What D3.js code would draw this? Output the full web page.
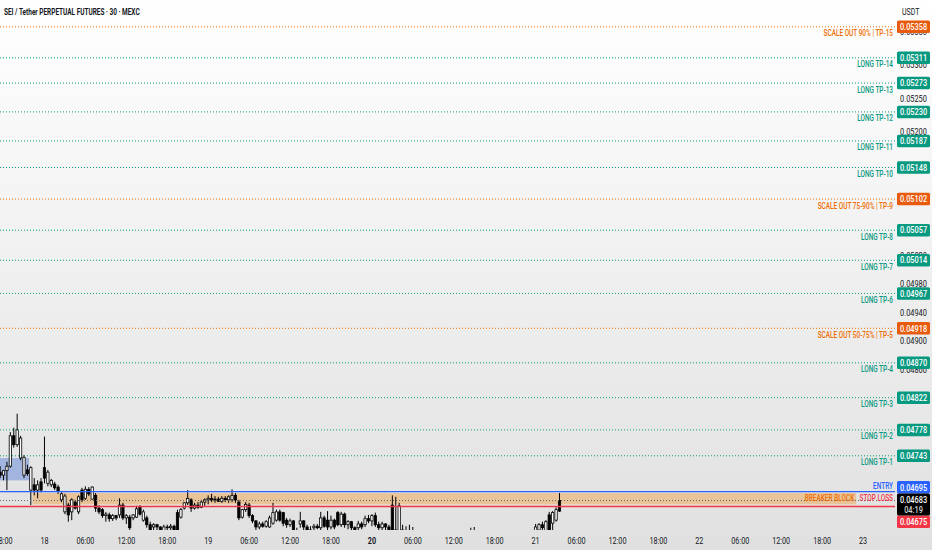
<!DOCTYPE html>
<html><head><meta charset="utf-8">
<script src="https://cdn.jsdelivr.net/npm/d3@7"></script>
<style>
html,body{margin:0;padding:0;background:#fff;}
svg{display:block;font-family:Roboto,"Noto Sans",sans-serif;}
</style></head><body>
<svg id="chart" width="932" height="550"></svg>
<script>
// ---------------- DATA ----------------
const title = "SEI / Tether PERPETUAL FUTURES · 30 · MEXC";
const currency = "USDT";
const firstCandle = "2025-01-17T17:30:00Z";   // 30-minute candles
const candleMinutes = 30;
// [open, high, low, close]
const ohlc = [
[0.04721,0.04729,0.04713,0.04717],[0.04717,0.04724,0.04710,0.04723],[0.04723,0.04735,0.04697,0.04729],[0.04729,0.04775,0.04727,0.04770],
[0.04770,0.04781,0.04754,0.04758],[0.04758,0.04800,0.04755,0.04778],[0.04740,0.04770,0.04737,0.04767],[0.04717,0.04744,0.04713,0.04741],
[0.04724,0.04731,0.04716,0.04719],[0.04697,0.04729,0.04677,0.04727],[0.04704,0.04713,0.04690,0.04697],[0.04697,0.04710,0.04686,0.04704],
[0.04708,0.04713,0.04694,0.04697],[0.04727,0.04769,0.04706,0.04713],[0.04706,0.04724,0.04702,0.04721],[0.04704,0.04712,0.04701,0.04710],
[0.04705,0.04708,0.04697,0.04700],[0.04701,0.04704,0.04692,0.04696],[0.04684,0.04694,0.04681,0.04692],[0.04668,0.04692,0.04665,0.04689],
[0.04677,0.04680,0.04655,0.04664],[0.04668,0.04686,0.04657,0.04684],[0.04681,0.04684,0.04671,0.04673],[0.04668,0.04690,0.04665,0.04688],
[0.04697,0.04700,0.04681,0.04684],[0.04686,0.04702,0.04684,0.04698],[0.04698,0.04701,0.04689,0.04692],[0.04685,0.04702,0.04684,0.04701],
[0.04690,0.04693,0.04668,0.04673],[0.04673,0.04677,0.04665,0.04668],[0.04671,0.04673,0.04660,0.04663],[0.04663,0.04668,0.04655,0.04665],
[0.04664,0.04667,0.04655,0.04659],[0.04659,0.04665,0.04656,0.04663],[0.04663,0.04664,0.04657,0.04660],[0.04664,0.04686,0.04660,0.04677],
[0.04677,0.04680,0.04657,0.04660],[0.04660,0.04665,0.04652,0.04663],[0.04661,0.04664,0.04644,0.04647],[0.04660,0.04665,0.04657,0.04664],
[0.04661,0.04676,0.04660,0.04672],[0.04674,0.04677,0.04663,0.04665],[0.04657,0.04671,0.04655,0.04668],[0.04660,0.04663,0.04647,0.04651],
[0.04651,0.04655,0.04637,0.04644],[0.04648,0.04653,0.04641,0.04651],[0.04651,0.04652,0.04644,0.04648],[0.04648,0.04649,0.04631,0.04637],
[0.04641,0.04651,0.04637,0.04648],[0.04648,0.04651,0.04641,0.04647],[0.04647,0.04652,0.04639,0.04649],[0.04649,0.04651,0.04631,0.04633],
[0.04667,0.04671,0.04631,0.04644],[0.04661,0.04673,0.04659,0.04671],[0.04673,0.04681,0.04671,0.04680],[0.04680,0.04697,0.04677,0.04686],
[0.04684,0.04686,0.04668,0.04673],[0.04673,0.04680,0.04671,0.04677],[0.04677,0.04681,0.04672,0.04674],[0.04674,0.04684,0.04673,0.04681],
[0.04681,0.04686,0.04676,0.04684],[0.04684,0.04690,0.04678,0.04686],[0.04686,0.04692,0.04681,0.04684],[0.04684,0.04689,0.04680,0.04685],
[0.04685,0.04688,0.04681,0.04682],[0.04682,0.04689,0.04680,0.04686],[0.04686,0.04689,0.04681,0.04684],[0.04684,0.04690,0.04680,0.04688],
[0.04684,0.04698,0.04681,0.04690],[0.04690,0.04693,0.04680,0.04684],[0.04681,0.04684,0.04657,0.04660],[0.04661,0.04672,0.04659,0.04671],
[0.04671,0.04681,0.04668,0.04678],[0.04677,0.04680,0.04660,0.04663],[0.04663,0.04665,0.04653,0.04656],[0.04656,0.04657,0.04644,0.04648],
[0.04648,0.04655,0.04645,0.04652],[0.04652,0.04655,0.04647,0.04649],[0.04649,0.04657,0.04647,0.04655],[0.04648,0.04663,0.04647,0.04660],
[0.04653,0.04680,0.04651,0.04667],[0.04657,0.04671,0.04655,0.04668],[0.04668,0.04671,0.04655,0.04657],[0.04667,0.04668,0.04649,0.04653],
[0.04657,0.04660,0.04647,0.04651],[0.04651,0.04659,0.04648,0.04656],[0.04656,0.04657,0.04637,0.04641],[0.04641,0.04647,0.04631,0.04637],
[0.04652,0.04668,0.04647,0.04656],[0.04656,0.04657,0.04644,0.04648],[0.04648,0.04651,0.04637,0.04641],[0.04641,0.04649,0.04636,0.04644],
[0.04647,0.04652,0.04644,0.04649],[0.04649,0.04652,0.04645,0.04647],[0.04647,0.04668,0.04644,0.04660],[0.04660,0.04663,0.04647,0.04649],
[0.04657,0.04669,0.04644,0.04648],[0.04648,0.04663,0.04645,0.04657],[0.04657,0.04659,0.04645,0.04648],[0.04667,0.04669,0.04649,0.04651],
[0.04651,0.04668,0.04648,0.04665],[0.04665,0.04667,0.04647,0.04651],[0.04651,0.04657,0.04645,0.04655],[0.04655,0.04656,0.04644,0.04647],
[0.04647,0.04649,0.04639,0.04644],[0.04647,0.04656,0.04644,0.04652],[0.04652,0.04655,0.04645,0.04648],[0.04651,0.04663,0.04648,0.04659],
[0.04659,0.04664,0.04653,0.04656],[0.04656,0.04665,0.04649,0.04663],[0.04663,0.04667,0.04648,0.04651],[0.04651,0.04655,0.04644,0.04647],
[0.04647,0.04655,0.04644,0.04652],[0.04652,0.04653,0.04644,0.04648],[0.04648,0.04651,0.04637,0.04641],[0.04677,0.04690,0.04631,0.04637],
[0.04637,0.04688,0.04633,0.04644],[0.04624,0.04680,0.04617,0.04676],[0.04644,0.04651,0.04631,0.04637],[0.04637,0.04649,0.04631,0.04633],
[0.04633,0.04651,0.04624,0.04631],[0.04631,0.04648,0.04624,0.04628],[0.04628,0.04637,0.04620,0.04624],[0.04624,0.04628,0.04612,0.04615],
[0.04615,0.04622,0.04608,0.04619],[0.04619,0.04625,0.04610,0.04613],[0.04613,0.04620,0.04605,0.04617],[0.04617,0.04626,0.04612,0.04622],
[0.04622,0.04630,0.04615,0.04618],[0.04618,0.04624,0.04609,0.04612],[0.04612,0.04619,0.04603,0.04608],[0.04608,0.04616,0.04600,0.04611],
[0.04611,0.04620,0.04605,0.04615],[0.04615,0.04623,0.04610,0.04619],[0.04619,0.04628,0.04613,0.04624],[0.04624,0.04632,0.04617,0.04621],
[0.04621,0.04629,0.04614,0.04626],[0.04626,0.04636,0.04620,0.04630],[0.04630,0.04647,0.04624,0.04634],[0.04634,0.04648,0.04627,0.04629],
[0.04629,0.04638,0.04621,0.04625],[0.04625,0.04633,0.04618,0.04622],[0.04622,0.04630,0.04614,0.04618],[0.04618,0.04626,0.04611,0.04620],
[0.04620,0.04628,0.04612,0.04616],[0.04616,0.04624,0.04608,0.04613],[0.04613,0.04621,0.04606,0.04617],[0.04617,0.04625,0.04610,0.04621],
[0.04621,0.04630,0.04614,0.04618],[0.04618,0.04627,0.04612,0.04623],[0.04623,0.04631,0.04617,0.04627],[0.04627,0.04635,0.04620,0.04624],
[0.04624,0.04633,0.04618,0.04629],[0.04629,0.04637,0.04622,0.04632],[0.04632,0.04639,0.04625,0.04628],[0.04628,0.04638,0.04622,0.04634],
[0.04634,0.04641,0.04627,0.04636],[0.04636,0.04652,0.04630,0.04648],[0.04644,0.04653,0.04637,0.04651],[0.04651,0.04655,0.04641,0.04647],
[0.04641,0.04657,0.04637,0.04655],[0.04664,0.04668,0.04637,0.04644],[0.04653,0.04669,0.04644,0.04667],[0.04657,0.04674,0.04655,0.04671],
[0.04683,0.04693,0.04668,0.04669]
];
const levelNames = ["SCALE OUT 90% | TP-15","LONG TP-14","LONG TP-13","LONG TP-12","LONG TP-11","LONG TP-10",
  "SCALE OUT 75-90% | TP-9","LONG TP-8","LONG TP-7","LONG TP-6","SCALE OUT 50-75% | TP-5","LONG TP-4","LONG TP-3","LONG TP-2","LONG TP-1"];
const levelPrices = [0.05358,0.05311,0.05273,0.05230,0.05187,0.05148,0.05102,0.05057,0.05014,0.04967,0.04918,0.04870,0.04822,0.04778,0.04743];
const levelKinds = ["scale","long","long","long","long","long","scale","long","long","long","scale","long","long","long","long"];
const entryLabel = "ENTRY", entryPrice = 0.04695;
const stopLabel = "STOP LOSS", stopPrice = 0.04675;
const lastPrice = 0.04683, countdown = "04:19";
const breakerLabel = "BREAKER BLOCK";
const breakerLow = 0.04678, breakerHigh = 0.04693, breakerStart = "2025-01-17T22:30:00Z", breakerEnd = "2025-01-22T23:00:00Z";
const obLow = 0.04710, obHigh = 0.04740, obStart = "2025-01-17T12:00:00Z", obEnd = "2025-01-17T21:30:00Z";
// price-scale ticks that are (at least partly) visible between the price tags
const priceTicks = [0.05350,0.05300,0.05250,0.05200,0.05020,0.04980,0.04940,0.04900,0.04860];
const xTickTimes = ["2025-01-17T18:00Z","2025-01-18T00:00Z","2025-01-18T06:00Z","2025-01-18T12:00Z","2025-01-18T18:00Z",
  "2025-01-19T00:00Z","2025-01-19T06:00Z","2025-01-19T12:00Z","2025-01-19T18:00Z","2025-01-20T00:00Z","2025-01-20T06:00Z",
  "2025-01-20T12:00Z","2025-01-20T18:00Z","2025-01-21T00:00Z","2025-01-21T06:00Z","2025-01-21T12:00Z","2025-01-21T18:00Z",
  "2025-01-22T00:00Z","2025-01-22T06:00Z","2025-01-22T12:00Z","2025-01-22T18:00Z","2025-01-23T00:00Z"];
const xTickLabels = ["18:00","18","06:00","12:00","18:00","19","06:00","12:00","18:00","20","06:00","12:00","18:00","21",
  "06:00","12:00","18:00","22","06:00","12:00","18:00","23"];
const weekStartLabel = "20";
const viewStart = "2025-01-17T17:29:00Z", viewEnd = "2025-01-23T04:41:00Z";
const viewLow = 0.04644, viewHigh = 0.05399;

// ---------------- LAYOUT / STYLE ----------------
const W = 932, H = 550, plotR = 895, plotB = 530;
const TEAL = "#089981", ORANGE = "#ef6c00", ORANGE_BOX = "#e85a0c", BLUE = "#2962ff", RED = "#f23645", INK = "#131722";

const svg = d3.select("#chart");
const defs = svg.append("defs");
const grad = defs.append("linearGradient").attr("id","bg").attr("x1",0).attr("y1",0).attr("x2",0).attr("y2",1);
grad.append("stop").attr("offset","0%").attr("stop-color","#ffffff");
grad.append("stop").attr("offset","100%").attr("stop-color","#e0e0e0");
defs.append("clipPath").attr("id","plotClip").append("rect").attr("x",0).attr("y",0).attr("width",plotR).attr("height",plotB);
svg.append("rect").attr("width",W).attr("height",H).attr("fill","url(#bg)");

const x = d3.scaleUtc().domain([new Date(viewStart), new Date(viewEnd)]).range([0, plotR]);
const y = d3.scaleLog().domain([viewLow, viewHigh]).range([plotB, 0]);
const t0 = new Date(firstCandle).getTime();
const times = ohlc.map((d,i)=> new Date(t0 + i*candleMinutes*60000));
const step = x(new Date(t0 + candleMinutes*60000)) - x(new Date(t0));
const bodyW = step*0.68;
const f5 = d3.format(".5f");

function txt(g, tx, ty, s, o){
  return g.append("text")
    .attr("transform", `translate(${tx},${ty}) scale(${o.sx||1},1)`)
    .attr("text-anchor", o.anchor||"start")
    .attr("dy","0.35em")
    .attr("font-size", o.size||8)
    .attr("font-weight", o.weight||400)
    .attr("fill", o.fill||INK)
    .text(s);
}

const plot = svg.append("g").attr("clip-path","url(#plotClip)");

// order block (blue)
plot.append("rect")
  .attr("x", x(new Date(obStart)) - step/2).attr("y", y(obHigh))
  .attr("width", x(new Date(obEnd)) + step/2 - (x(new Date(obStart)) - step/2))
  .attr("height", y(obLow) - y(obHigh))
  .attr("fill","#3d6fd8").attr("fill-opacity",0.4);

// breaker block band
const bx0 = x(new Date(breakerStart)) - step/2, bx1 = x(new Date(breakerEnd));
plot.append("rect").attr("x",bx0).attr("y",y(breakerHigh)).attr("width",bx1-bx0)
  .attr("height",y(breakerLow)-y(breakerHigh)).attr("fill","#f5962a").attr("fill-opacity",0.4);

// candles
const cg = plot.append("g");
ohlc.forEach((d,i)=>{
  const cx = x(times[i]);
  const [o,h,l,c] = d;
  const up = c >= o;
  cg.append("line").attr("x1",cx).attr("x2",cx).attr("y1",y(h)).attr("y2",y(l))
    .attr("stroke","#000").attr("stroke-width",1);
  const top = y(Math.max(o,c)), bot = y(Math.min(o,c));
  cg.append("rect").attr("x",cx-bodyW/2).attr("y",top).attr("width",bodyW)
    .attr("height",Math.max(bot-top,0.8))
    .attr("fill", up ? "#ffffff" : "#000000").attr("stroke","#000").attr("stroke-width",0.8);
});

// TP levels
levelPrices.forEach((p,i)=>{
  const col = levelKinds[i]==="scale" ? ORANGE : TEAL;
  plot.append("line").attr("x1",0).attr("x2",plotR).attr("y1",y(p)).attr("y2",y(p))
    .attr("stroke",col).attr("stroke-width",1).attr("stroke-dasharray","1,2");
  txt(plot, plotR-2, y(p)+6.5, levelNames[i], {fill:col, size:8.5, sx:0.76, anchor:"end", weight:500});
});

// last price dotted line
plot.append("line").attr("x1",0).attr("x2",plotR).attr("y1",y(lastPrice)).attr("y2",y(lastPrice))
  .attr("stroke","#60636e").attr("stroke-width",1).attr("stroke-dasharray","1,2");
// entry & stop
plot.append("line").attr("x1",0).attr("x2",plotR).attr("y1",y(entryPrice)).attr("y2",y(entryPrice))
  .attr("stroke",BLUE).attr("stroke-width",1.2);
plot.append("line").attr("x1",0).attr("x2",plotR).attr("y1",y(stopPrice)).attr("y2",y(stopPrice))
  .attr("stroke",RED).attr("stroke-width",1.5);
txt(plot, plotR-2, y(entryPrice)-6, entryLabel, {fill:BLUE, size:8.5, sx:0.76, anchor:"end", weight:500});
txt(plot, plotR-2, y(stopPrice)-8.5, stopLabel, {fill:RED, size:8.5, sx:0.76, anchor:"end", weight:500});
txt(plot, bx1-2, (y(breakerHigh)+y(breakerLow))/2 - 1, breakerLabel, {fill:ORANGE, size:8.5, sx:0.76, anchor:"end", weight:500});

// ---------------- PRICE AXIS ----------------
const ax = svg.append("g");
priceTicks.forEach(p=>{
  txt(ax, 913.5, y(p), f5(p), {size:9, sx:0.82, anchor:"middle", fill:INK});
});
txt(ax, 902, 12, currency, {size:8.5, sx:0.82, fill:INK});

const boxH = 12.5, boxX = 897, boxW = 33;
const labels = levelPrices.map((p,i)=>({price:p, color: levelKinds[i]==="scale"?ORANGE_BOX:TEAL, lines:[f5(p)], h:boxH}));
labels.push({price:entryPrice, color:BLUE, lines:[f5(entryPrice)], h:boxH});
labels.push({price:stopPrice, color:RED, lines:[f5(stopPrice)], h:boxH});
const cur = {price:lastPrice, color:"#000000", lines:[f5(lastPrice), countdown], h:22};
cur.top = y(lastPrice) - 7;
let limit = cur.top;
labels.filter(l=>y(l.price) < y(lastPrice)).sort((a,b)=>y(b.price)-y(a.price)).forEach(l=>{
  l.top = Math.min(y(l.price)-l.h/2, limit - l.h); limit = l.top;
});
limit = cur.top + cur.h;
labels.filter(l=>y(l.price) > y(lastPrice)).sort((a,b)=>y(a.price)-y(b.price)).forEach(l=>{
  l.top = Math.max(y(l.price)-l.h/2, limit); limit = l.top + l.h;
});
labels.push(cur);
labels.forEach(l=>{
  ax.append("rect").attr("x",boxX).attr("y",l.top).attr("width",boxW).attr("height",l.h)
    .attr("rx",1.5).attr("fill",l.color);
  l.lines.forEach((s,j)=>{
    txt(ax, boxX+boxW/2, l.top + 6.3 + j*10, s, {size:9, sx:0.82, anchor:"middle", fill: j===0 ? "#ffffff" : "#d6d6d6", weight:500});
  });
});

// ---------------- TIME AXIS ----------------
xTickTimes.forEach((t,i)=>{
  const lab = xTickLabels[i];
  txt(svg, x(new Date(t)), 541, lab, {size:9, sx:0.8, anchor:"middle", fill:INK, weight: lab===weekStartLabel?700:400});
});

// title
txt(svg, 4, 12, title, {size:8.5, sx:0.76, fill:INK, weight:700});
</script>
</body></html>
